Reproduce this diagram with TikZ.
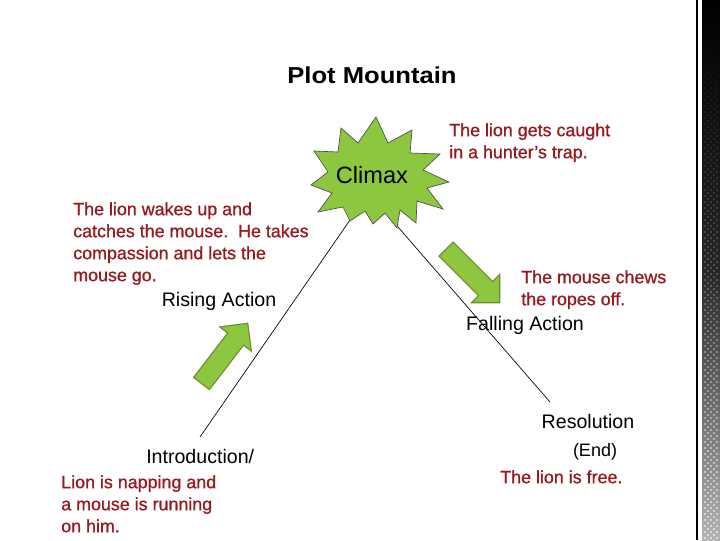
\documentclass[tikz,border=0pt]{standalone}
\usepackage{fontspec}
\setmainfont{Liberation Sans}
\newfontfamily\storyfont{Liberation Sans}[FakeBold=0.9]
\usepackage{xcolor}
\usepackage{tikz}
\usetikzlibrary{calc}
\definecolor{storyred}{HTML}{961A1E}
\definecolor{leafgreen}{HTML}{8DC63F}
\definecolor{leafdark}{HTML}{6E8B2A}

\begin{document}
\begin{tikzpicture}[x=0.75pt,y=-0.75pt,
  story/.style={text=storyred,font=\storyfont\fontsize{13.4}{16.5}\selectfont,align=left,anchor=north west,inner sep=0pt},
  stage/.style={font=\fontsize{14.7}{17}\selectfont,inner sep=0pt,anchor=base}]
  \useasboundingbox (0,0) rectangle (720,540);
  \fill[white] (0,0) rectangle (720,540);

  % right edge
  \draw[line width=1.2pt] (697,0) -- (697,540);
  \shade[top color=black,bottom color=gray!60,middle color=black!85] (702,0) rectangle (720,540);
  \foreach \y in {4,10,...,538} {
    \pgfmathsetmacro\op{0.8*(\y/540)^1.5}
    \foreach \x in {705,711,717} { \fill[white,opacity=\op] (\x,\y) circle (1.1); }
    \foreach \x in {708,714} { \fill[white,opacity=\op] (\x,\y+3) circle (1.1); }
  }

  % title
  \node (title) at (372,75) {\fontsize{17.3}{20}\selectfont\bfseries\scalebox{1.11}[1]{Plot Mountain}};

  % mountain
  \coordinate (peakL) at (350,220);
  \coordinate (peakR) at (398,227);
  \coordinate (foot) at (200,437);
  \coordinate (endfoot) at (550,402);
  \draw[line width=0.5pt] (peakL) -- (foot);
  \draw[line width=0.5pt] (peakR) -- (endfoot);

  % star
  \draw[fill=leafgreen,draw=black!70,line width=0.5pt,line join=miter]
    (376,117) -- (388,143) -- (412,130) -- (410,153) -- (440,154) -- (423,170)
    -- (449,182) -- (427,188) -- (443,209) -- (417,201) -- (416,223) -- (400,210)
    -- (397,228) -- (385,213) -- (373,224) -- (365,211) -- (350,221) -- (343,207)
    -- (318,212) -- (332,193) -- (311,185) -- (328,172) -- (314,151) -- (338,152)
    -- (341,128) -- (358,143) -- cycle;
  \node[font=\fontsize{17.7}{20}\selectfont] (climax) at (372,175) {Climax};

  % arrows
  \foreach \tx/\ty/\ang in {201.5/383.5/52.5, 446/249/-45} {
    \begin{scope}[shift={(\tx,\ty)},rotate=\ang]
      \draw[fill=leafgreen,draw=leafdark,line width=0.8pt,line join=miter]
        (0,-10) -- (56,-10) -- (56,-20) -- (76,0) -- (56,20) -- (56,10) -- (0,10) -- cycle;
    \end{scope}
  }

  % labels
  \node[stage] (rising) at (219,306) {Rising Action};
  \node[stage] (falling) at (525,330) {Falling Action};
  \node[stage] (resolution) at (588,428) {Resolution};
  \node[stage,font=\fontsize{13.5}{16}\selectfont] (end) at (595,456) {(End)};
  \node[stage,anchor=base west] (intro) at (146,463) {Introduction/};

  % story
  \node[story] (caught) at (449,123) {The lion gets caught\\in a hunter’s trap.};
  \node[story] (wakes) at (73,202) {The lion wakes up and\\catches the mouse.\ \ He takes\\compassion and lets the\\mouse go.};
  \node[story] (chews) at (521,270) {The mouse chews\\the ropes off.};
  \node[story] (free) at (500,470) {The lion is free.};
  \node[story] (napping) at (61,475) {Lion is napping and\\a mouse is running\\on him.};
\end{tikzpicture}
\end{document}
